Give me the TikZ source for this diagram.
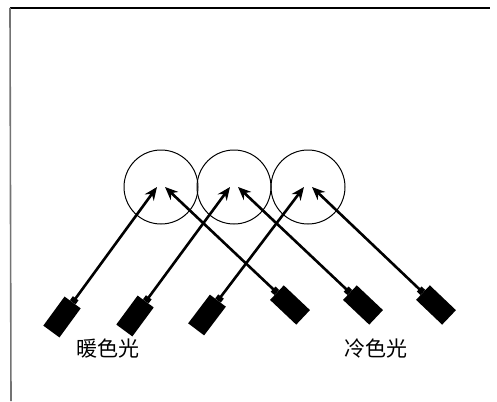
\documentclass[tikz,border=0pt]{standalone}
\usepackage{fontspec}
\newfontfamily\cjk{Noto Sans CJK SC}
\usetikzlibrary{arrows.meta,calc}
\tikzset{
  ring/.style={draw=black, line width=1pt, circle, minimum size=74pt, inner sep=0pt},
  lampbox/.style={fill=black, draw=none, rectangle, minimum width=36pt, minimum height=20pt, inner sep=0pt, sloped, allow upside down},
  ray/.style={draw=black, line width=2.6pt, -{Stealth[length=13pt,width=11pt]}},
  neck/.style={draw=black, line width=7pt},
  label/.style={font=\cjk\fontsize{21}{21}\selectfont, inner sep=0pt},
  frame/.style={draw=black, line width=2.6pt}
}
\begin{document}
\begin{tikzpicture}[x=1pt,y=-1pt]
\useasboundingbox (0,0) rectangle (497,401);
% frame
\coordinate (fa) at (10,8);
\coordinate (fb) at (490,8);
\coordinate (fc) at (11,401);
\draw[frame] (fa) -- (fb);
\draw[draw=black!55, line width=1.6pt] (fa) -- (fc);
% circles
\node[ring] (c1) at (161,187) {};
\node[ring] (c2) at (234,187) {};
\node[ring] (c3) at (308,187) {};
% targets
\coordinate (t1l) at (157,187);
\coordinate (t1r) at (165,187);
\coordinate (t2l) at (230,187);
\coordinate (t2r) at (238,187);
\coordinate (t3l) at (304,187);
\coordinate (t3r) at (312,187);
% lamp positions
\coordinate (p1) at (62,317);
\coordinate (p2) at (135,316);
\coordinate (p3) at (207,315);
\coordinate (p4) at (290,305);
\coordinate (p5) at (363,305);
\coordinate (p6) at (436,305);
\path (p1) -- (t1l) node[lampbox,pos=0] (w1) {};
\path (p2) -- (t2l) node[lampbox,pos=0] (w2) {};
\path (p3) -- (t3l) node[lampbox,pos=0] (w3) {};
\path (p4) -- (t1r) node[lampbox,pos=0] (k1) {};
\path (p5) -- (t2r) node[lampbox,pos=0] (k2) {};
\path (p6) -- (t3r) node[lampbox,pos=0] (k3) {};
% necks
\foreach \l/\t in {w1/t1l,w2/t2l,w3/t3l,k1/t1r,k2/t2r,k3/t3r}{
  \draw[neck] (\l.east) -- ($(\l.east)!5pt!(\t)$);
}
% rays
\draw[ray] (w1.east) -- (t1l);
\draw[ray] (w2.east) -- (t2l);
\draw[ray] (w3.east) -- (t3l);
\draw[ray] (k1.east) -- (t1r);
\draw[ray] (k2.east) -- (t2r);
\draw[ray] (k3.east) -- (t3r);
% labels
\node[label] (warm) at (108,349) {暖色光};
\node[label] (cool) at (376,348) {冷色光};
\end{tikzpicture}
\end{document}
